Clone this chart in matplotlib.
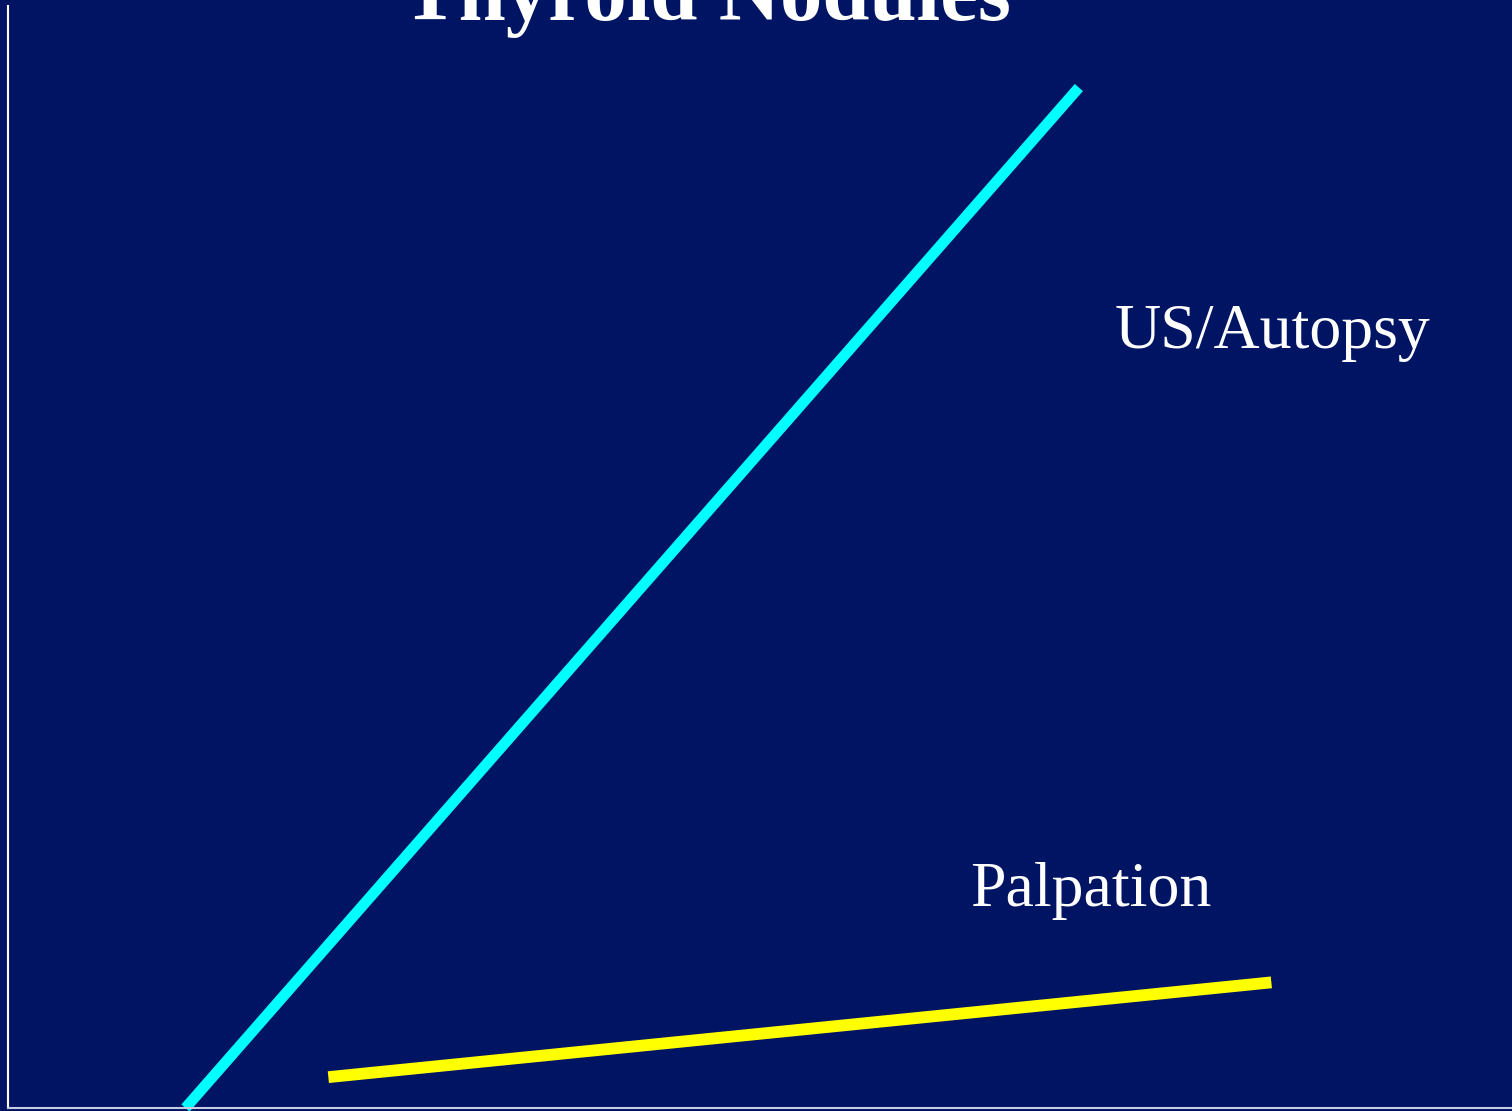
import matplotlib.pyplot as plt

# data (axis units 0-100 on both axes)
us_x = [11.8, 71.2]
us_y = [0.0, 92.6]
palp_x = [21.3, 84.0]
palp_y = [2.8, 11.4]

title = 'Thyroid Nodules'
labels = ['US/Autopsy', 'Palpation']
label_x = [73.6, 64.0]
label_y = [69.0, 18.3]

bg = '#001464'

fig = plt.figure(figsize=(15.12, 11.11), dpi=100, facecolor=bg)
ax = fig.add_axes([8 / 1512, 3 / 1111, 1504 / 1512, 1102 / 1111])
ax.set_facecolor(bg)
ax.set_xlim(0, 100)
ax.set_ylim(0, 100)

ax.plot(us_x, us_y, color='#00ffff', lw=7.8, solid_capstyle='butt', clip_on=False)
ax.plot(palp_x, palp_y, color='#ffff00', lw=8.5, solid_capstyle='butt', clip_on=False)

for t, x, y in zip(labels, label_x, label_y):
    ax.text(x, y, t, color='white', fontsize=46, family='Liberation Serif',
            ha='left', va='baseline')

# title is partly cut by the top edge, as in the original slide
fig.text(707 / 1512, 1 - 20 / 1111, title, color='white', fontsize=61,
         fontweight='bold', family='Liberation Serif', ha='center', va='baseline')

for s in ['top', 'right']:
    ax.spines[s].set_visible(False)
ax.spines['left'].set_color('white')
ax.spines['bottom'].set_color('#c8cce0')
ax.spines['left'].set_linewidth(1.5)
ax.spines['bottom'].set_linewidth(1.5)
ax.set_xticks([])
ax.set_yticks([])

fig.savefig('out.png', dpi=100, facecolor=bg)
